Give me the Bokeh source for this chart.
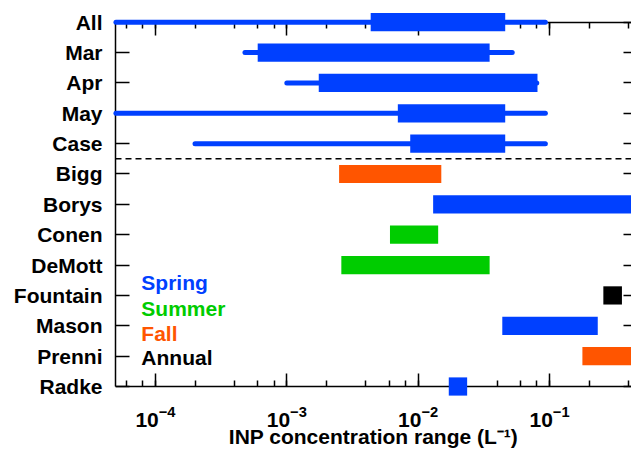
from bokeh.plotting import figure
from bokeh.models import (LogAxis, LinearAxis, FixedTicker, LogTicker, Span, Label,
                          Range1d, ColumnDataSource, CustomJSTickFormatter)
from bokeh.embed import file_html
from bokeh.resources import INLINE

# ---------------- data ----------------
categories = ["All", "Mar", "Apr", "May", "Case", "Bigg", "Borys", "Conen",
              "DeMott", "Fountain", "Mason", "Prenni", "Radke"]

campaign_rows = ["All", "Mar", "Apr", "May", "Case"]
campaign_min = [5.0e-5, 4.8e-4, 1.0e-3, 5.0e-5, 2.0e-4]
campaign_max = [0.093, 0.052, 0.080, 0.093, 0.093]
campaign_low = [4.35e-3, 6.0e-4, 1.75e-3, 7.0e-3, 8.7e-3]
campaign_high = [0.046, 0.035, 0.081, 0.046, 0.046]

study_rows = ["Bigg", "Borys", "Conen", "DeMott", "Fountain", "Mason", "Prenni", "Radke"]
study_low = [2.5e-3, 0.013, 6.1e-3, 2.6e-3, 0.257, 0.0437, 0.178, 0.0171]
study_high = [0.015, 0.6, 0.0142, 0.035, 0.356, 0.233, 0.6, 0.0236]
study_season = ["Fall", "Spring", "Summer", "Summer", "Annual", "Spring", "Fall", "Spring"]

seasons = ["Spring", "Summer", "Fall", "Annual"]
season_colors = ["#0040ff", "#00cc00", "#ff5500", "#000000"]

x_start, x_end = 4.96e-5, 0.421
axis_title = "INP concentration range (L\u207b\u00b9)"

# ---------------- layout helpers ----------------
n = len(categories)
ypos = {c: n - i for i, c in enumerate(categories)}   # All = 13 ... Radke = 1
color_of = dict(zip(seasons, season_colors))
FONT = "Liberation Sans"
FS = "21px"

camp = ColumnDataSource(dict(
    y=[ypos[c] for c in campaign_rows],
    xmin=campaign_min, xmax=campaign_max, lo=campaign_low, hi=campaign_high))
stud = ColumnDataSource(dict(
    y=[ypos[c] for c in study_rows],
    lo=study_low, hi=study_high,
    color=[color_of[s] for s in study_season]))

y_top, y_bot = ypos["All"], ypos["Radke"]
# the frame reaches the bottom of the canvas so the axis drawn through the last row
# (and its labels) stay inside it
p = figure(width=631, height=449, x_axis_type="log",
           x_range=Range1d(x_start, x_end), y_range=Range1d(y_bot - 2.075, y_top + 0.385),
           output_backend="svg", toolbar_location=None,
           min_border_left=115, min_border_right=0, min_border_top=10, min_border_bottom=0)
p.outline_line_color = None
p.xgrid.visible = False
p.ygrid.visible = False

blank = CustomJSTickFormatter(code="return '';")

# bottom axis (through the last row)
bx = p.xaxis[0]
bx.fixed_location = y_bot
bx.ticker = LogTicker()
bx.major_tick_in = 13
bx.major_tick_out = 0
bx.minor_tick_in = 6
bx.minor_tick_out = 0
bx.axis_line_width = 1.5
bx.major_tick_line_width = 1.5
bx.minor_tick_line_width = 1.5
bx.major_label_standoff = 19
bx.major_label_text_font = FONT
bx.major_label_text_font_style = "bold"
bx.major_label_text_font_size = FS
bx.major_label_text_color = "black"
bx.axis_label = axis_title
bx.axis_label_standoff = -5
bx.axis_label_text_font = FONT
bx.axis_label_text_font_style = "bold"
bx.axis_label_text_font_size = FS
bx.axis_label_text_color = "black"

# top axis (through the first row)
tx = LogAxis(fixed_location=y_top, ticker=LogTicker(), formatter=blank,
             major_tick_in=13, major_tick_out=0, minor_tick_in=6, minor_tick_out=0,
             axis_line_width=1.5, major_tick_line_width=1.5, minor_tick_line_width=1.5,
             major_label_standoff=0, major_label_text_font_size="0px")
p.add_layout(tx, "above")

# left axis with the row names
ly = p.yaxis[0]
ly.bounds = (y_bot, y_top)
ly.ticker = FixedTicker(ticks=[ypos[c] for c in categories])
ly.major_label_overrides = {ypos[c]: c for c in categories}
ly.major_tick_in = 14
ly.major_tick_out = 0
ly.minor_tick_line_color = None
ly.axis_line_width = 1.5
ly.major_tick_line_width = 1.5
ly.major_label_standoff = 13
ly.major_label_text_font = FONT
ly.major_label_text_font_style = "bold"
ly.major_label_text_font_size = FS
ly.major_label_text_color = "black"

# right-hand inward ticks
ry = LinearAxis(fixed_location=x_end, ticker=FixedTicker(ticks=[ypos[c] for c in categories]),
                formatter=blank,
                axis_line_color=None, major_tick_out=8, major_tick_in=0,
                major_tick_line_width=1.5, minor_tick_line_color=None,
                major_label_standoff=0, major_label_text_font_size="0px")
p.add_layout(ry, "left")

# separator between campaign rows and literature rows
p.add_layout(Span(location=(ypos["Case"] + ypos["Bigg"]) / 2, dimension="width",
                  line_color="black", line_dash="6 4", line_width=1.5))

# campaign ranges (drawn above the axes, as in the original)
p.segment(x0="xmin", x1="xmax", y0="y", y1="y", source=camp,
          line_width=5, line_cap="round", line_color=season_colors[0], level="overlay")
p.hbar(y="y", left="lo", right="hi", height=0.6, source=camp,
       fill_color=season_colors[0], line_color=None, level="overlay")

# literature ranges
p.hbar(y="y", left="lo", right="hi", height=0.6, source=stud,
       fill_color="color", line_color=None, level="overlay")

# season legend (text only)
legend_x = 7.8e-5
legend_y = [4.42, 3.57, 2.75, 1.95]
for s, c, yb in zip(seasons, season_colors, legend_y):
    p.add_layout(Label(x=legend_x, y=yb, text=s, text_color=c, text_font=FONT,
                       text_font_style="bold", text_font_size=FS,
                       text_baseline="alphabetic"))

with open("out.html", "w", encoding="utf-8") as f:
    f.write(file_html(p, INLINE))
